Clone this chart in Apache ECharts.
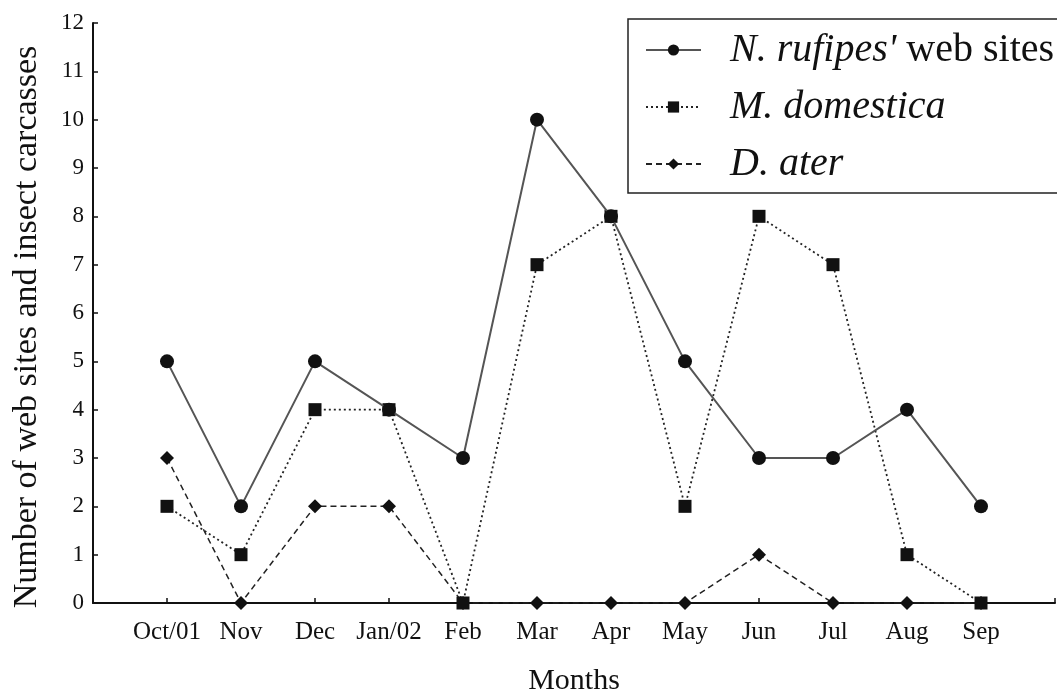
<!DOCTYPE html>
<html>
<head>
<meta charset="utf-8">
<script src="https://cdn.jsdelivr.net/npm/echarts@6/dist/echarts.min.js"></script>
<style>
  html, body { margin: 0; padding: 0; background: #fff; }
  #chart { width: 1057px; height: 695px; }
</style>
</head>
<body>
<div id="chart"></div>
<script>
// Monthly counts, October 2001 to September 2002
const months = ['Oct/01', 'Nov', 'Dec', 'Jan/02', 'Feb', 'Mar', 'Apr', 'May', 'Jun', 'Jul', 'Aug', 'Sep'];
const webSites = [5, 2, 5, 4, 3, 10, 8, 5, 3, 3, 4, 2];
const muscaDomestica = [2, 1, 4, 4, 0, 7, 8, 2, 8, 7, 1, 0];
const dermestesAter = [3, 0, 2, 2, 0, 0, 0, 0, 1, 0, 0, 0];
const yTicks = [0, 1, 2, 3, 4, 5, 6, 7, 8, 9, 10, 11, 12];

const serif = '"Liberation Serif", "DejaVu Serif", serif';
const ink = '#111';

const toPoints = (vals) => vals.map((v, i) => [i, v]);

const chart = echarts.init(document.getElementById('chart'), null, { renderer: 'canvas' });

chart.setOption({
  backgroundColor: '#ffffff',
  animation: false,
  grid: { left: 93, right: 2, top: 23, bottom: 92, containLabel: false, outerBoundsMode: 'none' },
  legend: {
    orient: 'vertical',
    left: 628,
    top: 19,
    padding: [9, 40, 7, 17],
    itemGap: 13,
    itemWidth: 55,
    itemHeight: 14,
    borderColor: '#222',
    borderWidth: 1.5,
    backgroundColor: '#fff',
    textStyle: {
      fontFamily: serif,
      fontSize: 40,
      lineHeight: 44,
      color: ink,
      padding: [0, 0, 0, 24],
      rich: {
        it: { fontFamily: serif, fontSize: 40, fontStyle: 'italic', color: ink },
        rm: { fontFamily: serif, fontSize: 40, color: ink }
      }
    },
    formatter: (name) => {
      if (name === 'rufipes') return '{it|N. rufipes\'}{rm| web sites}';
      if (name === 'domestica') return '{it|M. domestica}';
      return '{it|D. ater}';
    },
    data: ['rufipes', 'domestica', 'ater']
  },
  xAxis: {
    type: 'value',
    min: -1,
    max: 12,
    interval: 1,
    name: 'Months',
    nameLocation: 'middle',
    nameGap: 63,
    nameTextStyle: { fontFamily: serif, fontSize: 30, color: ink },
    splitLine: { show: false },
    axisLine: { onZero: false, lineStyle: { color: ink, width: 2 } },
    axisTick: { inside: true, length: 5, lineStyle: { color: ink, width: 1.5 } },
    axisLabel: {
      margin: 17,
      fontFamily: serif,
      fontSize: 25,
      color: ink,
      formatter: (v) => (months[v] !== undefined ? months[v] : '')
    }
  },
  yAxis: {
    type: 'value',
    min: yTicks[0],
    max: yTicks[yTicks.length - 1],
    interval: 1,
    name: 'Number of web sites and insect carcasses',
    nameLocation: 'middle',
    nameGap: 49,
    nameRotate: 90,
    nameTextStyle: { fontFamily: serif, fontSize: 34, color: ink, padding: [0, 28, 0, 0] },
    splitLine: { show: false },
    axisLine: { show: true, onZero: false, lineStyle: { color: ink, width: 2 } },
    axisTick: { show: true, inside: true, length: 5, lineStyle: { color: ink, width: 1.5 } },
    axisLabel: { margin: 9, fontFamily: serif, fontSize: 23, color: ink }
  },
  series: [
    {
      name: 'ater',
      type: 'line',
      data: toPoints(dermestesAter),
      symbol: 'diamond',
      symbolSize: 14,
      itemStyle: { color: ink },
      lineStyle: { color: '#222', width: 1.5, type: [6, 4] },
      z: 2
    },
    {
      name: 'domestica',
      type: 'line',
      data: toPoints(muscaDomestica),
      symbol: 'rect',
      symbolSize: 13,
      itemStyle: { color: ink },
      lineStyle: { color: '#222', width: 1.8, type: [2, 3] },
      z: 3
    },
    {
      name: 'rufipes',
      type: 'line',
      data: toPoints(webSites),
      symbol: 'circle',
      symbolSize: 14,
      itemStyle: { color: ink },
      lineStyle: { color: '#555', width: 2 },
      z: 4
    }
  ]
});
</script>
</body>
</html>
